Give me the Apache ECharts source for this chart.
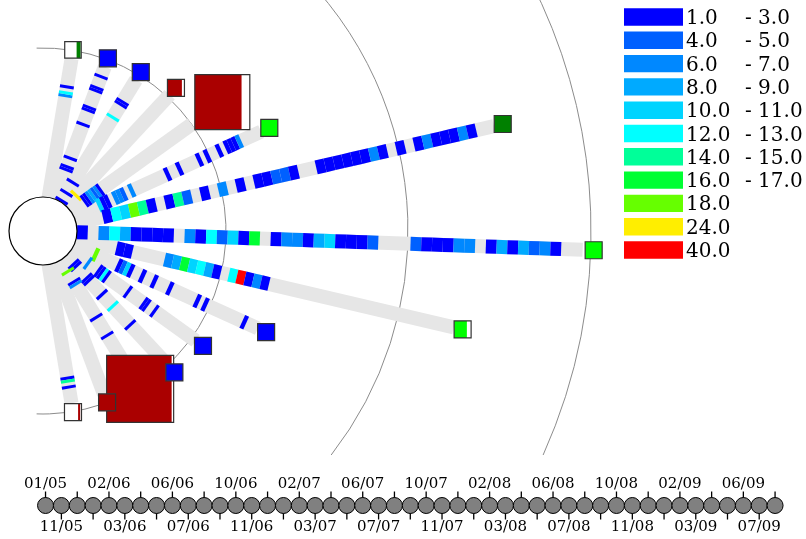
<!DOCTYPE html>
<html><head><meta charset="utf-8">
<script src="https://cdn.jsdelivr.net/npm/echarts/dist/echarts.min.js"></script>
<style>html,body{margin:0;padding:0;background:#fff}#c{width:806px;height:539px}</style>
</head><body><div id="c"></div>
<script>
// ---- legend classes ----
const classColors = ['#0000ff','#0060ff','#0088ff','#00aaff','#00d4ff','#00ffff','#00ff99','#00ff33','#66ff00','#ffee00','#ff0000'];
const legendLow  = ['1.0','4.0','6.0','8.0','10.0','12.0','14.0','16.0','18.0','24.0','40.0'];
const legendHigh = ['- 3.0','- 5.0','- 7.0','- 9.0','- 11.0','- 13.0','- 15.0','- 17.0','','',''];

// ---- timeline ----
const monthLabels = ['01/05','11/05','12/05','01/06','02/06','03/06','04/06','05/06','06/06','07/06','08/06','09/06',
 '10/06','11/06','12/06','01/07','02/07','03/07','04/07','05/07','06/07','07/07','08/07','09/07',
 '10/07','11/07','12/07','01/08','02/08','03/08','04/08','05/08','06/08','07/08','08/08','09/08',
 '10/08','11/08','12/08','01/09','02/09','03/09','04/09','05/09','06/09','07/09','08/09'];

// ---- rays (radial entities) ----
const rayAngle   = [-80.6,-69.4,-58.4,-47.1,-35.7,-24.5,-13.1,2.0,13.2,24.4,35.7,47.1,58.4,69.5,80.6];
const rayEnd     = [174.5,175.5,177.6,186,183,239.7,463,540,422,236,188,184,175,174,174.6];
const squareR    = [183.5,184.5,186.6,195.3,220.8,248.7,472,551,431,245,197,193,185.4,183,183.6];
const squareSize = [16.5,17,17,17,55,17,17,17,17,17,17,17,67,17,17];
const squareColor= ['#008000','#0000ff','#0000ff','#aa0000','#aa0000','#00ff00','#008000','#00ff00','#00ff00','#0000ff','#0000ff','#0000ff','#aa0000','#aa0000','#aa0000'];
const squareFill = [[0.72,0.96],[0,1],[0,1],[0,0.85],[0,0.85],[0,1],[0,1],[0,1],[0,0.75],[0,1],[0,1],[0,1],[0,0.97],[0,1],[0.8,0.92]];
// cells: [monthIndex, colorClass]
const rayCells = [
 [[34,2],[35,5],[37,0]],
 [[10,0],[11,0],[14,0],[26,0],[31,0],[32,0],[38,0],[39,0],[43,0]],
 [[0,0],[3,0],[7,0],[32,5],[37,0],[38,0]],
 [[4,9]],
 [[5,0],[6,0],[7,2],[8,3],[9,1],[10,2],[11,0]],
 [[6,4],[7,0],[8,0],[10,2],[11,2],[12,1],[14,2],[23,0],[26,0],[31,0],[33,0],[36,0],[38,0],[39,0],[40,0],[41,2]],
 [[3,0],[4,5],[5,4],[6,8],[7,6],[8,0],[10,0],[11,6],[12,1],[14,0],[16,2],[18,0],[20,0],[21,0],[22,1],[23,1],[24,0],[27,0],[28,0],[29,0],[30,0],[31,0],[32,0],[33,2],[34,0],[36,0],[38,0],[39,2],[40,0],[41,0],[42,0],[43,2],[44,0]],
 [[0,0],[2,2],[3,5],[4,3],[5,0],[6,0],[7,0],[8,0],[10,2],[11,0],[12,5],[13,1],[14,4],[15,0],[16,7],[18,0],[19,2],[20,2],[21,0],[22,3],[23,4],[24,0],[25,0],[26,0],[27,1],[31,1],[32,0],[33,0],[34,0],[35,2],[36,2],[38,0],[39,3],[40,0],[41,3],[42,1],[43,2],[44,0]],
 [[5,0],[6,0],[11,2],[12,3],[13,7],[14,4],[15,5],[16,3],[17,0],[19,5],[20,10],[21,0],[22,2],[23,0]],
 [[5,8],[11,0],[12,1],[13,4],[14,0],[17,0],[20,0],[24,0],[31,0],[33,0],[43,0]],
 [[6,2],[10,0],[11,0],[12,5],[13,0],[21,0],[27,0],[28,0],[31,0]],
 [[3,0],[4,0],[9,0],[10,0],[16,0],[21,5],[29,0]],
 [[4,8],[8,0],[9,2],[22,0],[29,0]],
 [],
 [[38,0],[39,6],[41,0]]
];
const ringRadius = [183, 365, 548];
const MONTHS = 47, INNER = 34, BAND = 14, CLIP_BOTTOM = 455;

const chart = echarts.init(document.getElementById('c'));

function bandPoly(api, r0, r1, ang, w) {
  const c = api.coord([0, ang]), q = api.coord([100, ang]);
  const dx = q[0]-c[0], dy = q[1]-c[1], len = Math.hypot(dx, dy);
  const nx = -dy/len*w/2, ny = dx/len*w/2;
  const a = api.coord([r0, ang]), b = api.coord([r1, ang]);
  return [[a[0]+nx,a[1]+ny],[b[0]+nx,b[1]+ny],[b[0]-nx,b[1]-ny],[a[0]-nx,a[1]-ny]];
}

const cellData = [];
rayCells.forEach((cells, i) => cells.forEach(([k, cls]) => {
  const L = rayEnd[i] - INNER;
  cellData.push([INNER + L*k/MONTHS, rayAngle[i], INNER + L*(k+1)/MONTHS, cls]);
}));
const squareOrder = squareSize.map((s,i)=>i).sort((a,b)=>squareSize[b]-squareSize[a]);

const graphics = [];
classColors.forEach((col, i) => {
  const y0 = 8.3 + 23.3*i;
  graphics.push({type:'rect', shape:{x:624, y:y0, width:59, height:17.4}, style:{fill:col}});
  graphics.push({type:'text', x:686, y:y0+10.5, style:{text:legendLow[i], font:'20px "DejaVu Serif"', fill:'#000', verticalAlign:'middle', textVerticalAlign:'middle', align:'left'}});
  if (legendHigh[i]) graphics.push({type:'text', x:745, y:y0+10.5, style:{text:legendHigh[i], font:'20px "DejaVu Serif"', fill:'#000', verticalAlign:'middle', textVerticalAlign:'middle', align:'left'}});
});

const labelStyle = {fontFamily:'DejaVu Serif', fontSize:15, color:'#000'};
chart.setOption({
  animation:false,
  backgroundColor:'#fff',
  graphic: graphics,
  polar: {center:[43, 231], radius: 548},
  angleAxis: {type:'value', min:-180, max:180, startAngle:180, clockwise:true, show:false},
  radiusAxis: {type:'value', min:0, max:548, show:false},
  grid: {left:37.6, top:498, width:745.4, height:15},
  xAxis: [
    {type:'category', data:monthLabels, position:'top', boundaryGap:true, axisLine:{show:false},
     axisTick:{show:false},
     axisLabel:Object.assign({interval:(i)=>i%4===0, margin:6}, labelStyle), splitLine:{show:false}},
    {type:'category', data:monthLabels, position:'bottom', boundaryGap:true, axisLine:{show:false},
     axisTick:{show:false},
     axisLabel:Object.assign({interval:(i)=>i%4===1, margin:7}, labelStyle), splitLine:{show:false}}
  ],
  yAxis: {type:'value', min:0, max:1, show:false},
  series: [
    {type:'custom', coordinateSystem:'polar', z:1, silent:true,
     data: ringRadius.map(r=>[r,0]),
     renderItem(params, api){
       const c = api.coord([0,0]), p = api.coord([api.value(0),0]);
       const R = Math.hypot(p[0]-c[0], p[1]-c[1]);
       const s = (CLIP_BOTTOM - c[1]) / R;
       const end = s >= 1 ? 92*Math.PI/180 : Math.min(92*Math.PI/180, Math.asin(s));
       return {type:'arc', shape:{cx:c[0], cy:c[1], r:R, startAngle:-92*Math.PI/180, endAngle:end, clockwise:true},
               style:{fill:'none', stroke:'#8c8c8c', lineWidth:1}};
     }},
    {type:'custom', coordinateSystem:'polar', z:2, silent:true,
     data: rayAngle.map((a,i)=>[rayEnd[i], a]),
     renderItem(params, api){
       return {type:'polygon', shape:{points: bandPoly(api, 0, api.value(0), api.value(1), BAND)}, style:{fill:'#e6e6e6'}};
     }},
    {type:'custom', coordinateSystem:'polar', z:3, silent:true,
     data: cellData,
     renderItem(params, api){
       return {type:'polygon', shape:{points: bandPoly(api, api.value(0), api.value(2), api.value(1), BAND)},
               style:{fill: classColors[api.value(3)]}};
     }},
    {type:'custom', coordinateSystem:'polar', z:4, silent:true,
     data: [[0,0]],
     renderItem(params, api){
       const c = api.coord([0,0]), p = api.coord([INNER,0]);
       return {type:'circle', shape:{cx:c[0], cy:c[1], r:Math.hypot(p[0]-c[0],p[1]-c[1])}, style:{fill:'#fff', stroke:'#000', lineWidth:1.2}};
     }},
    {type:'custom', coordinateSystem:'polar', z:5, silent:true,
     data: squareOrder.map(i=>[squareR[i], rayAngle[i], i]),
     renderItem(params, api){
       const i = api.value(2);
       const p = api.coord([api.value(0), api.value(1)]);
       const s = squareSize[i], x = p[0]-s/2, y = p[1]-s/2, f = squareFill[i];
       return {type:'group', children:[
         {type:'rect', shape:{x, y, width:s, height:s}, style:{fill:'#fff'}},
         {type:'rect', shape:{x:x+s*f[0], y, width:s*(f[1]-f[0]), height:s}, style:{fill:squareColor[i]}},
         {type:'rect', shape:{x, y, width:s, height:s}, style:{fill:'none', stroke:'#333', lineWidth:1.2}}
       ]};
     }},
    {type:'custom', xAxisIndex:0, yAxisIndex:0, z:1, silent:true,
     data: monthLabels.map((m,i)=>[i,0.5]),
     renderItem(params, api){
       const p = api.coord([api.value(0), api.value(1)]);
       const up = api.value(0) % 2 === 0;
       const y0 = up ? p[1]-6 : p[1]+6, y1 = up ? p[1]-14 : p[1]+14;
       return {type:'line', shape:{x1:p[0], y1:y0, x2:p[0], y2:y1}, style:{stroke:'#000', lineWidth:1.3}};
     }},
    {type:'scatter', xAxisIndex:0, yAxisIndex:0, z:2, symbol:'circle', symbolSize:16, silent:true,
     data: monthLabels.map((m,i)=>[i,0.5]),
     itemStyle:{color:'#808080', borderColor:'#000', borderWidth:1, opacity:1}}
  ]
});
</script></body></html>
